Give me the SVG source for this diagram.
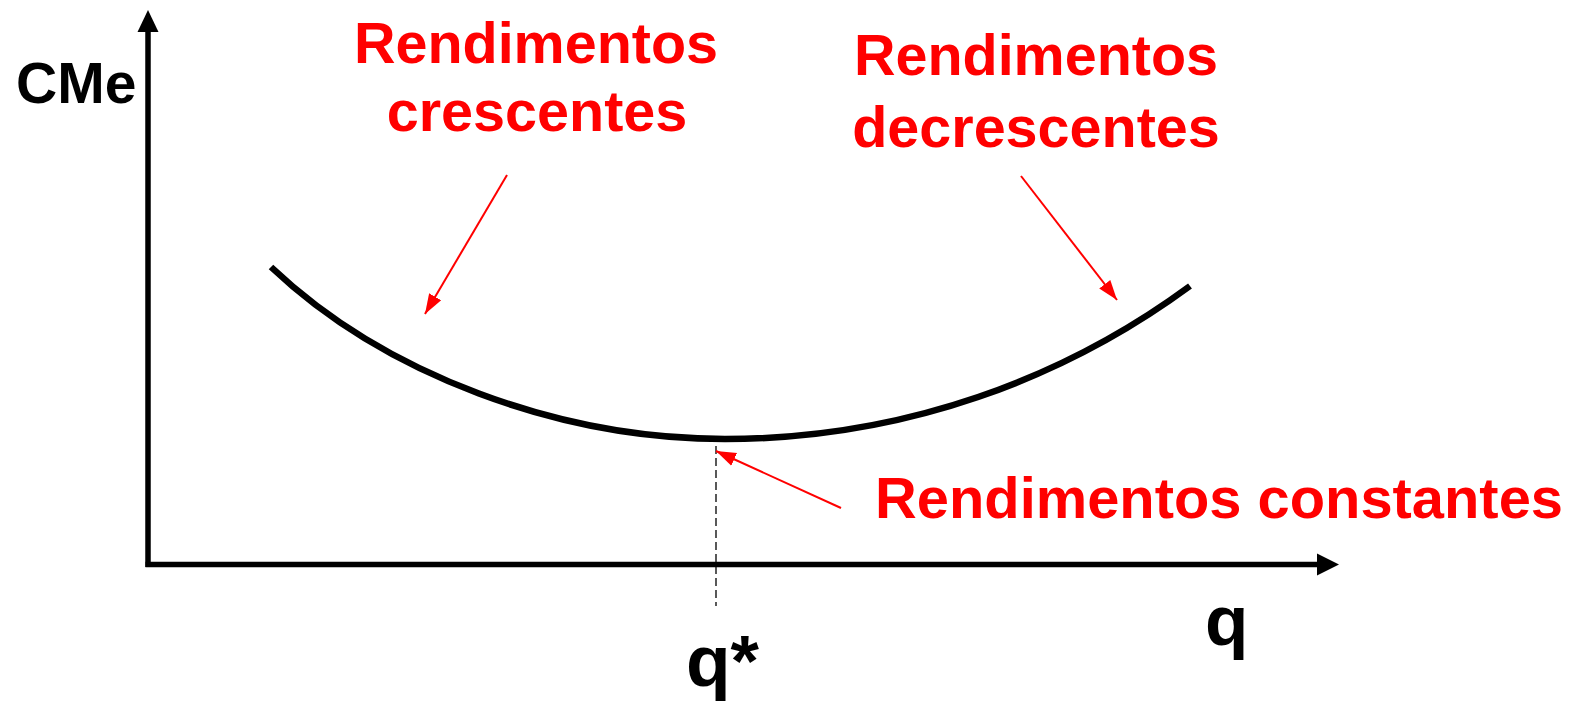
<svg xmlns="http://www.w3.org/2000/svg" width="1579" height="704" viewBox="0 0 1579 704">
<style>
.lbl{font-family:"Liberation Sans",Arial,sans-serif;font-weight:bold;}
.red{fill:#ff0000;font-size:57.5px;}
.blk{fill:#000;}
.ax{stroke:#000;stroke-width:5.5;fill:none;}
.rarr{stroke:#ff0000;stroke-width:2;fill:none;marker-end:url(#rh);}
</style>
<defs>
<marker id="rh" markerUnits="userSpaceOnUse" markerWidth="22" markerHeight="22" viewBox="0 0 22 22" refX="20" refY="11" orient="auto">
<path d="M0,4 L20,11 L0,18 Z" fill="#ff0000"/>
</marker>
</defs>
<rect width="1579" height="704" fill="#fff"/>
<g id="axes">
<line class="ax" x1="148" y1="567" x2="148" y2="28"/>
<path d="M148,10 L137.5,32 L158.5,32 Z" fill="#000"/>
<line class="ax" x1="145.5" y1="564.5" x2="1320" y2="564.5"/>
<path d="M1339,564.5 L1317,553.5 L1317,575.5 Z" fill="#000"/>
</g>
<g id="curve">
<path d="M271,267 C385,375 560,439 725,439 C905,439 1065,378 1190,286" stroke="#000" stroke-width="6.5" fill="none"/>
</g>
<g id="qstar-line">
<line x1="716" y1="446" x2="716" y2="606" stroke="#000" stroke-width="1.3" stroke-dasharray="8,4"/>
</g>
<g id="connectors">
<line class="rarr" x1="507" y1="175" x2="425" y2="314"/>
<line class="rarr" x1="1021" y1="176" x2="1117" y2="300"/>
<line class="rarr" x1="841" y1="508" x2="716" y2="451"/>
</g>
<g id="label-cme"><text class="lbl blk" x="16" y="103" font-size="57">CMe</text></g>
<g id="label-q"><text class="lbl blk" x="1205" y="645" font-size="71">q</text></g>
<g id="label-qstar"><text class="lbl blk" x="686" y="686" font-size="73">q*</text></g>
<g id="label-crescentes">
<text class="lbl red" x="536" y="63" text-anchor="middle">Rendimentos</text>
<text class="lbl red" x="537" y="131" text-anchor="middle">crescentes</text>
</g>
<g id="label-decrescentes">
<text class="lbl red" x="1036" y="75" text-anchor="middle">Rendimentos</text>
<text class="lbl red" x="1036" y="147" text-anchor="middle">decrescentes</text>
</g>
<g id="label-constantes">
<text class="lbl red" x="875" y="518" font-size="58" textLength="688" lengthAdjust="spacingAndGlyphs">Rendimentos constantes</text>
</g>
</svg>
